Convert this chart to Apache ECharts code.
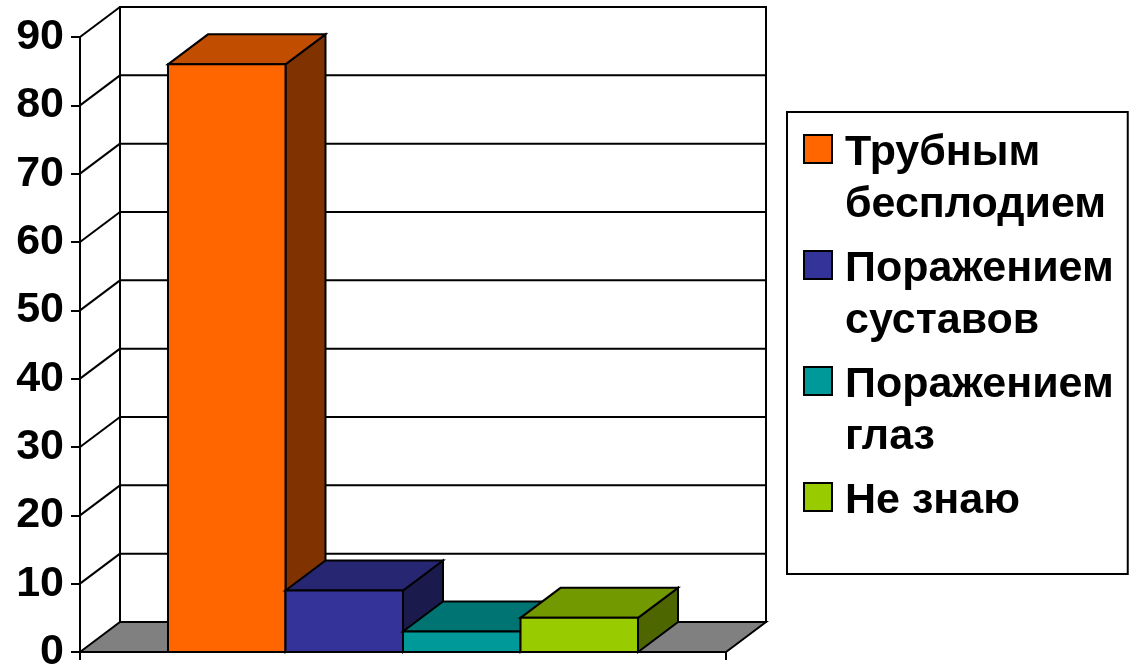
<!DOCTYPE html>
<html>
<head>
<meta charset="utf-8">
<style>html,body{margin:0;padding:0;background:#fff}#c{width:1132px;height:667px}</style>
<script src="https://cdn.jsdelivr.net/npm/echarts@6/dist/echarts.min.js"></script>
</head>
<body>
<div id="c"></div>
<script>
var categories = [''];
var seriesNames = ['Трубным\nбесплодием', 'Поражением\nсуставов', 'Поражением\nглаз', 'Не знаю'];
var seriesValues = [86, 9, 3, 5];
var frontColors = ['#FF6600', '#333399', '#009999', '#99CC00'];
var topColors = ['#C04D00', '#262673', '#007373', '#739900'];
var sideColors = ['#803300', '#1A1A4D', '#004D4D', '#4D6600'];
var gridTicks = [0, 10, 20, 30, 40, 50, 60, 70, 80, 90];

var DX = 40, DY = 30, BAR_RATIO = 0.1819, LINE = { stroke: '#000', lineWidth: 2, lineJoin: 'miter' };
var FONT = 'Liberation Sans';

function poly(points, fill) {
  return { type: 'polygon', shape: { points: points }, style: Object.assign({ fill: fill }, LINE) };
}
function line(a, b) {
  return { type: 'line', shape: { x1: a[0], y1: a[1], x2: b[0], y2: b[1] }, style: LINE };
}
function renderBack(params, api) {
  var v = api.value(1);
  var p = api.coord([0, v]);
  var w = api.size([1, 0])[0];
  var x0 = p[0] - w / 2, x1 = p[0] + w / 2, y = p[1];
  var kids = [];
  if (v === 0) {
    var top = api.coord([0, gridTicks[gridTicks.length - 1]])[1];
    kids.push(poly([[x0 + DX, top - DY], [x1 + DX, top - DY], [x1 + DX, y - DY], [x0 + DX, y - DY]], '#FFFFFF'));
    kids.push(poly([[x0, y], [x0 + DX, y - DY], [x1 + DX, y - DY], [x1, y]], '#808080'));
  } else {
    kids.push(line([x0 + DX, y - DY], [x1 + DX, y - DY]));
    kids.push(line([x0, y], [x0 + DX, y - DY]));
  }
  return { type: 'group', children: kids };
}
function renderBar(params, api) {
  var i = params.seriesIndex - 1;
  var p = api.coord([0, api.value(1)]);
  var base = api.coord([0, 0])[1];
  var band = api.size([1, 0])[0];
  var w = band * BAR_RATIO;
  var l = p[0] - 2 * w + i * w, r = l + w, t = p[1];
  return {
    type: 'group',
    children: [
      poly([[r, t], [r + DX, t - DY], [r + DX, base - DY], [r, base]], sideColors[i]),
      poly([[l, t], [l + DX, t - DY], [r + DX, t - DY], [r, t]], topColors[i]),
      poly([[l, t], [r, t], [r, base], [l, base]], frontColors[i])
    ]
  };
}
var ICON = 'path://M0 8H28V36H0Z M0 0L0 0 M36 104L36 104';
var series = [{
  type: 'custom', name: 'wall', silent: true, z: 1,
  renderItem: renderBack,
  data: gridTicks.map(function (t) { return [0, t]; })
}];
seriesNames.forEach(function (n, i) {
  series.push({
    type: 'custom', name: n, z: 2, silent: true,
    itemStyle: { color: frontColors[i] },
    renderItem: renderBar,
    data: [[0, seriesValues[i]]]
  });
});
var chart = echarts.init(document.getElementById('c'), null, { renderer: 'canvas' });
chart.setOption({
  animation: false,
  grid: { left: 80, top: 37, width: 646, height: 615, outerBoundsMode: 'none' },
  xAxis: {
    type: 'category', data: categories,
    axisLine: { show: true, lineStyle: { color: '#000', width: 2 } },
    axisTick: { show: true, length: 8, lineStyle: { color: '#000', width: 2 } },
    axisLabel: { show: false }, splitLine: { show: false }
  },
  yAxis: {
    type: 'value', min: 0, max: 90, interval: 10,
    axisLine: { show: true, lineStyle: { color: '#000', width: 2 } },
    axisTick: { show: true, length: 9, lineStyle: { color: '#000', width: 2 } },
    axisLabel: { color: '#000', fontFamily: FONT, fontWeight: 'bold', fontSize: 43, margin: 16 },
    splitLine: { show: false }
  },
  legend: {
    orient: 'vertical', left: 787, top: 112, selectedMode: false,
    backgroundColor: '#fff', borderColor: '#000', borderWidth: 2, borderRadius: 0,
    padding: [14, 14, -6, 16],
    itemWidth: 36, itemHeight: 104, itemGap: 10,
    itemStyle: { borderColor: '#000', borderWidth: 2 },
    data: seriesNames.map(function (n) { return { name: n, icon: ICON }; }),
    formatter: function (n) { return n.indexOf('\n') >= 0 ? n : n + '\n '; },
    textStyle: { color: '#000', fontFamily: FONT, fontWeight: 'bold', fontSize: 43, lineHeight: 52 }
  },
  series: series
});
</script>
</body>
</html>
